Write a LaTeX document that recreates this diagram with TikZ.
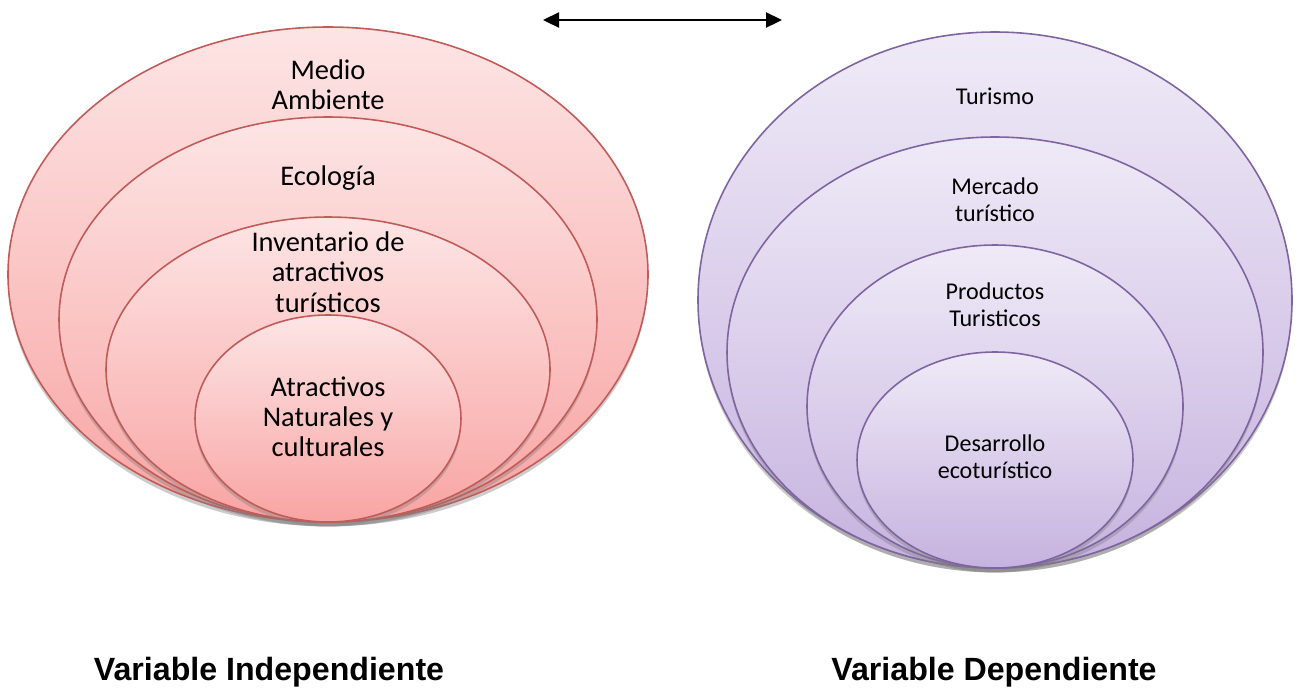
\documentclass[tikz,border=0pt]{standalone}
\usepackage{fontspec}
\setmainfont{Carlito}
\newfontfamily\labelfont{Liberation Sans}
\usepackage{xcolor}
\usetikzlibrary{arrows.meta,shadows}

\definecolor{redline}{HTML}{C25B58}
\definecolor{redtop}{HTML}{FDE5E5}
\definecolor{redbot}{HTML}{F8A4A3}
\definecolor{lilaline}{HTML}{7E64A0}
\definecolor{lilatop}{HTML}{EFEAF7}
\definecolor{lilabot}{HTML}{C6B2DF}

\begin{document}
\begin{tikzpicture}[x=0.02cm,y=-0.02cm,thick,
  redring/.style={draw=redline,line width=0.9pt,top color=redtop,bottom color=redbot,
    drop shadow={shadow xshift=0pt,shadow yshift=-2.5pt,opacity=0.4}},
  lilaring/.style={draw=lilaline,line width=0.9pt,top color=lilatop,bottom color=lilabot,
    drop shadow={shadow xshift=0pt,shadow yshift=-2.5pt,opacity=0.4}},
  lefttxt/.style={align=center,font=\fontsize{16.2}{17.2}\selectfont},
  righttxt/.style={align=center,font=\fontsize{13.7}{15.3}\selectfont},
  varlabel/.style={font=\labelfont\bfseries\fontsize{18.3}{21}\selectfont}]

\useasboundingbox (0,0) rectangle (1298,691);

% Independent variable (red rings)
\path[redring] (328,274.5) ellipse [x radius=320, y radius=247.5];
\path[redring] (328,319.5) ellipse [x radius=269, y radius=202.5];
\path[redring] (328,369.5) ellipse [x radius=222, y radius=152.5];
\path[redring] (328,418.5) ellipse [x radius=133, y radius=103.5];

\node[lefttxt] (medio) at (328,85) {Medio\\Ambiente};
\node[lefttxt] (ecologia) at (328,178) {Ecología};
\node[lefttxt] (inventario) at (328,272) {Inventario de\\atractivos\\turísticos};
\node[lefttxt] (atractivos) at (328,417) {Atractivos\\Naturales y\\culturales};

% Dependent variable (lilac rings)
\path[lilaring] (995,300) ellipse [x radius=297, y radius=268];
\path[lilaring] (995,352.5) ellipse [x radius=268, y radius=215.5];
\path[lilaring] (995,406.5) ellipse [x radius=188, y radius=161.5];
\path[lilaring] (995,460) ellipse [x radius=138, y radius=108];

\node[righttxt] (turismo) at (995,96) {Turismo};
\node[righttxt] (mercado) at (995,200) {Mercado\\turístico};
\node[righttxt] (productos) at (995,305) {Productos\\Turisticos};
\node[righttxt] (desarrollo) at (995,457) {Desarrollo\\ecoturístico};

% Relation arrow
\coordinate (arrleft) at (543,20);
\coordinate (arrright) at (782,20);
\draw[{Triangle[length=0.32cm,width=0.3cm]}-{Triangle[length=0.32cm,width=0.3cm]},line width=1.3pt]
  (arrleft) -- (arrright);

% Variable names
\node[varlabel] (indep) at (269,672) {Variable Independiente};
\node[varlabel] (dep) at (994,672) {Variable Dependiente};

\end{tikzpicture}
\end{document}
